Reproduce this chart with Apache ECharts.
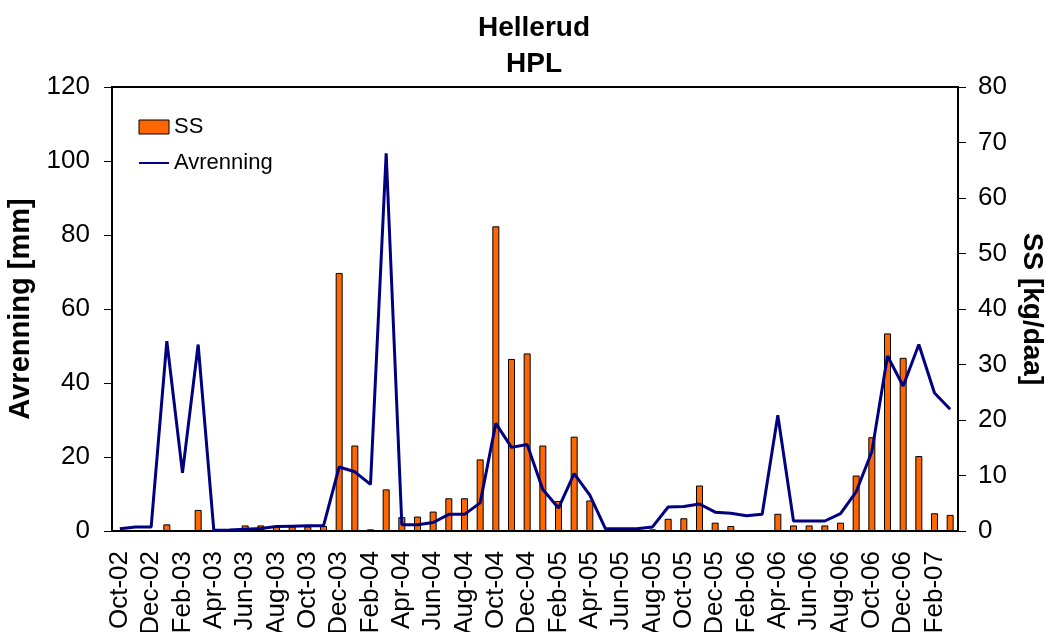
<!DOCTYPE html>
<html>
<head>
<meta charset="utf-8">
<script src="https://cdn.jsdelivr.net/npm/echarts@6/dist/echarts.min.js"></script>
<style>
  html, body { margin: 0; padding: 0; background: #fff; }
  #chart { width: 1046px; height: 632px; }
</style>
</head>
<body>
<div id="chart"></div>
<script>
// Monthly categories, Oct 2002 – Mar 2007
const months = [
  'Oct-02','Nov-02','Dec-02','Jan-03','Feb-03','Mar-03','Apr-03','May-03','Jun-03','Jul-03','Aug-03','Sep-03',
  'Oct-03','Nov-03','Dec-03','Jan-04','Feb-04','Mar-04','Apr-04','May-04','Jun-04','Jul-04','Aug-04','Sep-04',
  'Oct-04','Nov-04','Dec-04','Jan-05','Feb-05','Mar-05','Apr-05','May-05','Jun-05','Jul-05','Aug-05','Sep-05',
  'Oct-05','Nov-05','Dec-05','Jan-06','Feb-06','Mar-06','Apr-06','May-06','Jun-06','Jul-06','Aug-06','Sep-06',
  'Oct-06','Nov-06','Dec-06','Jan-07','Feb-07','Mar-07'
];

// Runoff per month [mm] (left axis)
const avrenning = [
  0.6, 1.1, 1.1, 51.3, 15.7, 50.4, 0.2, 0.3, 0.5, 0.7, 1.2, 1.3,
  1.4, 1.4, 17.3, 16.0, 12.6, 102.1, 1.7, 1.7, 2.3, 4.5, 4.5, 7.6,
  29.1, 22.6, 23.4, 11.2, 6.2, 15.5, 9.7, 0.6, 0.6, 0.6, 1.1, 6.5,
  6.6, 7.3, 5.1, 4.8, 4.1, 4.5, 31.3, 2.7, 2.7, 2.7, 4.7, 10.6,
  21.4, 47.3, 39.2, 50.4, 37.3, 32.9
];

// Suspended solids per month [kg/daa] (right axis)
const ss = [
  0.1, 0.1, 0.1, 1.2, 0.1, 3.8, 0, 0, 1.0, 1.0, 0.8, 0.8,
  0.8, 0.9, 46.5, 15.4, 0.3, 7.5, 2.5, 2.6, 3.5, 5.9, 5.9, 12.9,
  54.9, 31.0, 32.0, 15.4, 5.4, 17.0, 5.5, 0, 0, 0, 0.3, 2.2,
  2.3, 8.2, 1.5, 0.9, 0.05, 0.05, 3.1, 1.0, 1.0, 1.0, 1.5, 10.0,
  16.9, 35.6, 31.2, 13.5, 3.2, 2.9
];

const FONT = '"Liberation Sans", Arial, sans-serif';

const chart = echarts.init(document.getElementById('chart'), null, { renderer: 'canvas' });

chart.setOption({
  animation: false,
  backgroundColor: '#fff',
  textStyle: { fontFamily: FONT, color: '#000' },
  title: {
    text: 'Hellerud\nHPL',
    left: 529,
    top: 5,
    textAlign: 'center',
    textStyle: { fontFamily: FONT, fontWeight: 'bold', fontSize: 28, lineHeight: 36, color: '#000' }
  },
  legend: {
    orient: 'vertical',
    left: 138,
    top: 116,
    padding: 0,
    itemWidth: 30,
    itemHeight: 14,
    itemGap: 14,
    textStyle: { fontFamily: FONT, fontSize: 22, color: '#000' },
    data: [
      { name: 'SS', icon: 'rect', itemStyle: { color: '#FF6600', borderColor: '#000', borderWidth: 1 } },
      { name: 'Avrenning', itemStyle: { color: 'transparent', borderColor: 'transparent', borderWidth: 0 } }
    ]
  },
  grid: {
    left: 112, right: 88, top: 87, bottom: 101,
    outerBoundsMode: 'none',
    containLabel: false,
    show: true, borderColor: '#000', borderWidth: 2, backgroundColor: 'transparent'
  },
  xAxis: {
    type: 'category',
    data: months,
    boundaryGap: true,
    axisLine: { lineStyle: { color: '#000', width: 2 } },
    axisTick: { interval: 1, length: 7, lineStyle: { color: '#000', width: 1 } },
    axisLabel: {
      interval: 1, rotate: 90, margin: 20,
      fontFamily: FONT, fontSize: 26, color: '#000'
    },
    splitLine: { show: false }
  },
  yAxis: [
    {
      type: 'value', min: 0, max: 120, interval: 20,
      position: 'left',
      name: 'Avrenning [mm]',
      nameLocation: 'middle', nameRotate: 90, nameGap: 76,
      nameTextStyle: { fontFamily: FONT, fontWeight: 'bold', fontSize: 29, color: '#000' },
      axisLine: { show: true, lineStyle: { color: '#000', width: 2 } },
      axisTick: { show: true, inside: false, length: 8, lineStyle: { color: '#000' } },
      axisLabel: { margin: 22, fontFamily: FONT, fontSize: 26, color: '#000' },
      splitLine: { show: false }
    },
    {
      type: 'value', min: 0, max: 80, interval: 10,
      position: 'right',
      name: 'SS [kg/daa]',
      nameLocation: 'middle', nameRotate: -90, nameGap: 59,
      nameTextStyle: { fontFamily: FONT, fontWeight: 'bold', fontSize: 28, color: '#000' },
      axisLine: { show: true, lineStyle: { color: '#000', width: 2 } },
      axisTick: { show: true, inside: false, length: 8, lineStyle: { color: '#000' } },
      axisLabel: { margin: 20, fontFamily: FONT, fontSize: 26, color: '#000' },
      splitLine: { show: false }
    }
  ],
  series: [
    {
      name: 'SS',
      type: 'bar',
      yAxisIndex: 1,
      data: ss,
      barWidth: 7,
      itemStyle: { color: '#FF6600', borderColor: '#000', borderWidth: 1 },
      z: 2
    },
    {
      name: 'Avrenning',
      type: 'line',
      yAxisIndex: 0,
      data: avrenning,
      symbol: 'none',
      showSymbol: false,
      lineStyle: { color: '#000080', width: 3 },
      itemStyle: { color: '#000080' },
      z: 3
    }
  ]
});
</script>
</body>
</html>
